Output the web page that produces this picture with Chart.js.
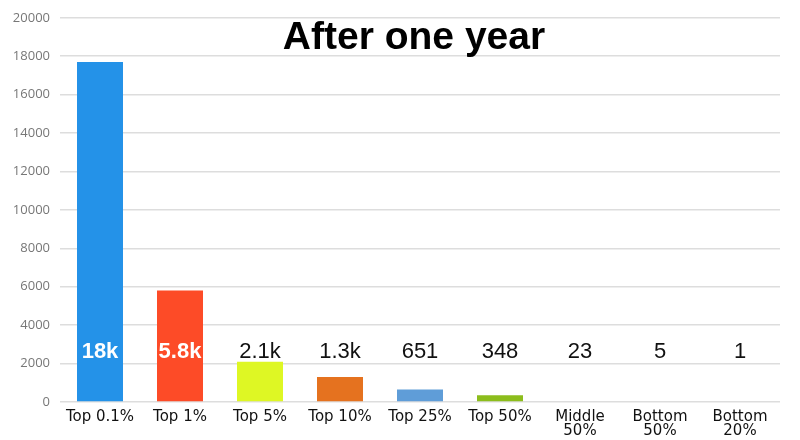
<!DOCTYPE html>
<html>
<head>
<meta charset="utf-8">
<script src="https://cdn.jsdelivr.net/npm/chart.js@4.4.0/dist/chart.umd.min.js"></script>
<style>
  html, body { margin: 0; padding: 0; background: #fff; }
  #wrap { width: 800px; height: 440px; }
</style>
</head>
<body>
<div id="wrap"><canvas id="myChart"></canvas></div>
<script>
var groups = [['Top 0.1%'], ['Top 1%'], ['Top 5%'], ['Top 10%'], ['Top 25%'], ['Top 50%'], ['Middle', '50%'], ['Bottom', '50%'], ['Bottom', '20%']];
var gains = [17700, 5800, 2100, 1300, 651, 348, 23, 5, 1];
var gainLabels = ['18k', '5.8k', '2.1k', '1.3k', '651', '348', '23', '5', '1'];
var yTicks = [0, 2000, 4000, 6000, 8000, 10000, 12000, 14000, 16000, 18000, 20000];
var colores = ['#2492e8', '#fd4b27', '#def724', '#e5721f', '#5f9dd8', '#8cbd1c', '#dddddd', '#dddddd', '#dddddd'];
var labelLevel = 2600;

// titulo y etiquetas encima de las barras
var etiquetas = {
    id: 'etiquetas',
    afterDatasetsDraw: function (chart) {
        var c = chart.ctx;
        var area = chart.chartArea;
        var yScale = chart.scales.y;
        var meta = chart.getDatasetMeta(0);
        c.save();
        c.textAlign = 'center';
        c.textBaseline = 'middle';
        var y = yScale.getPixelForValue(labelLevel);
        meta.data.forEach(function (bar, i) {
            if (i < 2) {
                c.fillStyle = '#ffffff';
                c.font = 'bold 22px "Liberation Sans", Arial, sans-serif';
            } else {
                c.fillStyle = '#111111';
                c.font = '22px "Liberation Sans", Arial, sans-serif';
            }
            c.fillText(gainLabels[i], bar.x, y);
        });
        c.fillStyle = '#000000';
        c.font = 'bold 39px "Liberation Sans", Arial, sans-serif';
        c.textBaseline = 'alphabetic';
        c.fillText('After one year', (area.left + area.right) / 2 - 6, area.top + 31);
        c.restore();
    }
};

var ctx = document.getElementById('myChart');
new Chart(ctx, {
    type: 'bar',
    data: {
        labels: groups,
        datasets: [{
            label: 'gain',
            data: gains,
            backgroundColor: colores,
            borderWidth: 0,
            categoryPercentage: 1,
            barPercentage: 0.575
        }]
    },
    options: {
        responsive: true,
        maintainAspectRatio: false,
        animation: false,
        layout: { padding: { top: 14, right: 20, left: 0, bottom: 0 } },
        plugins: {
            legend: { display: false },
            tooltip: { enabled: false }
        },
        scales: {
            x: {
                grid: { display: false },
                border: { display: false },
                afterFit: function (axis) { axis.height = 38; },
                ticks: {
                    color: '#111',
                    font: { family: '"DejaVu Sans", sans-serif', size: 15, lineHeight: 0.93 },
                    maxRotation: 0,
                    autoSkip: false,
                    padding: 0
                }
            },
            y: {
                min: 0,
                max: 20000,
                afterBuildTicks: function (axis) {
                    axis.ticks = yTicks.map(function (v) { return { value: v }; });
                },
                afterFit: function (axis) { axis.width = 60; },
                grid: { color: '#dddddd', lineWidth: 1.5, drawTicks: false },
                border: { display: false },
                ticks: {
                    color: '#777',
                    font: { family: '"Open Sans", sans-serif', size: 13 },
                    padding: 10,
                    callback: function (v) { return String(v); }
                }
            }
        }
    },
    plugins: [etiquetas]
});
</script>
</body>
</html>
